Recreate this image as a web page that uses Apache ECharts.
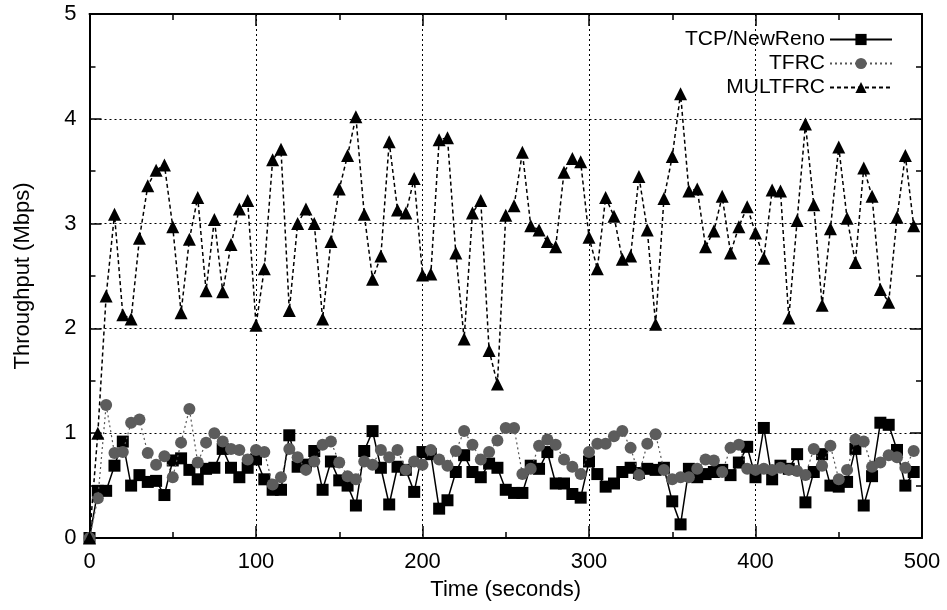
<!DOCTYPE html>
<html>
<head>
<meta charset="utf-8">
<script src="https://cdn.jsdelivr.net/npm/echarts@6/dist/echarts.min.js"></script>
<style>
html,body{margin:0;padding:0;background:#fff;}
#chart{width:947px;height:610px;}
</style>
</head>
<body>
<div id="chart"></div>
<script>
var times = [0,5,10,15,20,25,30,35,40,45,50,55,60,65,70,75,80,85,90,95,
100,105,110,115,120,125,130,135,140,145,150,155,160,165,170,175,180,185,190,195,
200,205,210,215,220,225,230,235,240,245,250,255,260,265,270,275,280,285,290,295,
300,305,310,315,320,325,330,335,340,345,350,355,360,365,370,375,380,385,390,395,
400,405,410,415,420,425,430,435,440,445,450,455,460,465,470,475,480,485,490,495];

var tcpNewReno = [0,0.45,0.45,0.69,0.92,0.50,0.60,0.535,0.545,0.41,0.74,0.76,0.65,0.56,0.66,0.67,0.85,0.67,0.58,0.67,
0.75,0.56,0.46,0.46,0.98,0.68,0.70,0.83,0.46,0.73,0.55,0.50,0.31,0.83,1.02,0.67,0.32,0.68,0.65,0.44,
0.82,0.80,0.28,0.36,0.63,0.79,0.63,0.58,0.71,0.67,0.46,0.43,0.43,0.69,0.66,0.82,0.52,0.52,0.42,0.385,
0.73,0.61,0.49,0.52,0.63,0.67,0.62,0.66,0.65,0.67,0.35,0.13,0.66,0.58,0.61,0.63,0.65,0.60,0.72,0.87,
0.58,1.05,0.56,0.69,0.66,0.80,0.34,0.63,0.80,0.50,0.49,0.535,0.85,0.31,0.59,1.10,1.08,0.84,0.50,0.63];

var tfrc = [0,0.38,1.27,0.81,0.82,1.10,1.13,0.81,0.70,0.78,0.58,0.91,1.23,0.72,0.91,1.00,0.92,0.85,0.84,0.75,
0.84,0.82,0.51,0.58,0.85,0.77,0.65,0.73,0.89,0.92,0.72,0.59,0.56,0.73,0.70,0.84,0.77,0.84,0.65,0.73,
0.70,0.84,0.75,0.69,0.83,1.02,0.89,0.75,0.82,0.93,1.05,1.05,0.61,0.66,0.88,0.94,0.89,0.75,0.68,0.61,
0.82,0.90,0.90,0.97,1.02,0.86,0.60,0.90,0.99,0.65,0.56,0.58,0.58,0.66,0.75,0.74,0.63,0.86,0.89,0.66,
0.65,0.66,0.65,0.67,0.65,0.64,0.60,0.85,0.69,0.88,0.56,0.65,0.94,0.92,0.68,0.72,0.79,0.77,0.67,0.83];

var multfrc = [0,1.00,2.31,3.09,2.13,2.09,2.86,3.36,3.51,3.56,2.97,2.15,2.85,3.25,2.36,3.04,2.35,2.80,3.14,3.22,
2.03,2.57,3.61,3.71,2.17,3.00,3.14,3.00,2.09,2.83,3.33,3.65,4.02,3.09,2.47,2.69,3.78,3.13,3.10,3.43,
2.51,2.52,3.80,3.82,2.72,1.90,3.10,3.22,1.79,1.47,3.08,3.17,3.68,2.98,2.94,2.83,2.78,3.49,3.62,3.59,
2.87,2.57,3.25,3.07,2.66,2.69,3.45,2.94,2.04,3.24,3.64,4.24,3.31,3.33,2.78,2.93,3.26,2.72,2.97,3.16,
2.91,2.67,3.32,3.31,2.10,3.03,3.95,3.18,2.22,2.95,3.73,3.05,2.63,3.53,3.26,2.37,2.25,3.06,3.65,2.98];

var seriesNames = ['TCP/NewReno','TFRC','MULTFRC'];
var xTicks = {min:0, max:500, interval:100};
var yTicks = {min:0, max:5, interval:1};

function pairs(vals){ return times.map(function(t,i){ return [t, vals[i]]; }); }

var FONT = '"Liberation Sans", Arial, Helvetica, sans-serif';
var chart = echarts.init(document.getElementById('chart'), null, {renderer:'canvas'});

function axisCommon(extra){
  var base = {
    type:'value',
    axisLine:{show:true, onZero:false, lineStyle:{color:'#000', width:2}},
    axisTick:{show:true, inside:true, length:12, lineStyle:{color:'#000', width:1.5}},
    minorTick:{show:true, splitNumber:2, length:6, lineStyle:{color:'#000', width:1.5}},
    axisLabel:{color:'#000', fontSize:22, fontFamily:FONT, margin:13},
    splitLine:{show:false},
    minorSplitLine:{show:false}
  };
  for (var k in extra) base[k] = extra[k];
  return base;
}

var option = {
  animation:false,
  backgroundColor:'#fff',
  textStyle:{fontFamily:FONT},
  grid:{left:89.5, right:25, top:14, bottom:72, containLabel:false},
  legend:{
    data:seriesNames,
    orient:'vertical',
    align:'right',
    right:49,
    top:24,
    itemWidth:62,
    itemHeight:14,
    itemGap:3,
    textStyle:{fontSize:21, color:'#000', fontFamily:FONT}
  },
  xAxis:[
    axisCommon({min:xTicks.min, max:xTicks.max, interval:xTicks.interval, position:'bottom',
      name:'Time (seconds)', nameLocation:'middle', nameGap:41,
      nameTextStyle:{fontSize:22, color:'#000', fontFamily:FONT},
      splitLine:{show:true, lineStyle:{color:'#000', width:1, type:[2,3]}}}),
    axisCommon({min:xTicks.min, max:xTicks.max, interval:xTicks.interval, position:'top',
      axisLabel:{show:false}})
  ],
  yAxis:[
    axisCommon({min:yTicks.min, max:yTicks.max, interval:yTicks.interval, position:'left',
      name:'Throughput (Mbps)', nameLocation:'middle', nameGap:56,
      nameTextStyle:{fontSize:22, color:'#000', fontFamily:FONT},
      splitLine:{show:true, lineStyle:{color:'#000', width:1, type:[2,3]}}}),
    axisCommon({min:yTicks.min, max:yTicks.max, interval:yTicks.interval, position:'right',
      axisLabel:{show:false}})
  ],
  series:[
    {
      name:seriesNames[0], type:'line', data:pairs(tcpNewReno),
      symbol:'rect', symbolSize:12, showAllSymbol:true,
      itemStyle:{color:'#000'},
      lineStyle:{color:'#000', width:1.5, type:'solid'},
      z:2
    },
    {
      name:seriesNames[1], type:'line', data:pairs(tfrc),
      symbol:'circle', symbolSize:12, showAllSymbol:true,
      itemStyle:{color:'#5c5c5c'},
      lineStyle:{color:'#555', width:1.2, type:[2,3]},
      z:3
    },
    {
      name:seriesNames[2], type:'line', data:pairs(multfrc),
      symbol:'triangle', symbolSize:13, showAllSymbol:true,
      itemStyle:{color:'#000'},
      lineStyle:{color:'#000', width:1.5, type:[4,3]},
      z:4
    }
  ]
};
chart.setOption(option);
</script>
</body>
</html>
